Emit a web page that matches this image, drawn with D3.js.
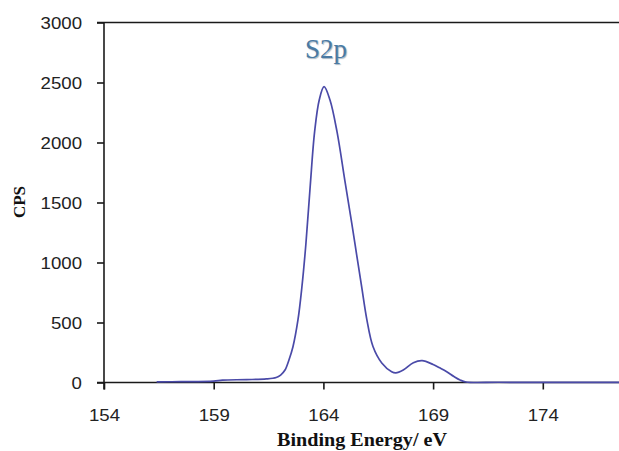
<!DOCTYPE html>
<html>
<head>
<meta charset="utf-8">
<script src="https://cdn.jsdelivr.net/npm/d3@7"></script>
<style>
  html, body { margin: 0; padding: 0; background: #fff; overflow: hidden; }
  svg { display: block; }
</style>
</head>
<body>
<svg id="chart" width="619" height="451"></svg>
<script>
// S2p XPS spectrum: binding energy (eV) vs counts per second
const energy = [156.4, 157.5, 159.0, 159.4, 160.5, 161.4, 161.85, 162.05, 162.25, 162.43,
  162.61, 162.84, 163.02, 163.2, 163.4, 163.6, 163.81, 164.03, 164.3,
  164.62, 164.98, 165.29, 165.52, 165.75, 165.97, 166.26, 166.66, 167.11, 167.3,
  167.64, 168.1, 168.5, 169.0, 169.3, 169.62, 169.95, 170.23, 170.5, 172, 175, 179];
const cps = [5, 7, 12, 20, 24, 30, 42, 62, 104, 188,
  296, 521, 796, 1150, 1640, 2090, 2354, 2465, 2354,
  2090, 1680, 1330, 1060, 790, 535, 300, 163, 90, 80,
  104, 165, 182, 150, 122, 90, 50, 21, 4, 2, 1, 1];
const xTicks = [154, 159, 164, 169, 174];
const yTicks = [0, 500, 1000, 1500, 2000, 2500, 3000];
const peakLabel = "S2p";

const svg = d3.select("#chart");
const W = 619;

const x = d3.scaleLinear().domain([154, 179]).range([104, 104 + 25 * 21.94]);
const y = d3.scaleLinear().domain([0, 3000]).range([382.5, 22.5]);

const axisColor = "#1a1a1a";

// frame line along the top of the plot area
svg.append("line")
  .attr("x1", 97).attr("x2", W)
  .attr("y1", y(3000)).attr("y2", y(3000))
  .attr("stroke", axisColor).attr("stroke-width", 1.6);

// y axis
const yAxis = svg.append("g")
  .attr("transform", `translate(${x(154)},0)`)
  .call(d3.axisLeft(y).tickValues(yTicks).tickSize(7).tickSizeOuter(0).tickPadding(0));
yAxis.select(".domain").attr("stroke", axisColor).attr("stroke-width", 1.6)
  .attr("d", `M0,${y(3000)}V${y(0) + 7}`);
yAxis.selectAll(".tick line").attr("stroke", axisColor).attr("stroke-width", 1.6);
yAxis.selectAll(".tick text").remove();
yAxis.selectAll(".tick").append("text")
  .attr("transform", "translate(-22,0) scale(1.13,1)")
  .attr("text-anchor", "end")
  .attr("dy", "0.36em")
  .attr("fill", "#222")
  .attr("font-family", "Liberation Sans, Arial, sans-serif")
  .attr("font-size", 16.5)
  .text(d => d);

// x axis
const xAxis = svg.append("g")
  .attr("transform", `translate(0,${y(0)})`)
  .call(d3.axisBottom(x).tickValues(xTicks).tickSize(7).tickSizeOuter(0).tickPadding(0));
xAxis.select(".domain").attr("stroke", axisColor).attr("stroke-width", 1.6)
  .attr("d", `M97,0H${W + 40}`);
xAxis.selectAll(".tick line").attr("stroke", axisColor).attr("stroke-width", 1.6);
xAxis.selectAll(".tick text").remove();
xAxis.selectAll(".tick").append("text")
  .attr("transform", "translate(0,38) scale(1.13,1)")
  .attr("text-anchor", "middle")
  .attr("fill", "#222")
  .attr("font-family", "Liberation Sans, Arial, sans-serif")
  .attr("font-size", 16.5)
  .text(d => d);

// spectrum line
const line = d3.line()
  .x((d, i) => x(energy[i]))
  .y((d, i) => y(cps[i]))
  .curve(d3.curveCatmullRom.alpha(0.5));

svg.append("path")
  .datum(cps)
  .attr("d", line)
  .attr("fill", "none")
  .attr("stroke", "#4a4aa8")
  .attr("stroke-width", 1.7);

// peak annotation
svg.append("text")
  .attr("x", 326).attr("y", 58)
  .attr("text-anchor", "middle")
  .attr("fill", "#4a7aa3")
  .attr("font-family", "Liberation Serif, Times New Roman, serif")
  .attr("font-size", 27)
  .style("text-shadow", "1px 1px 1px rgba(60,90,120,0.45)")
  .text(peakLabel);

// axis titles
svg.append("text")
  .attr("transform", "translate(362,446) scale(1.06,1)")
  .attr("text-anchor", "middle")
  .attr("fill", "#111")
  .attr("font-family", "Liberation Serif, Times New Roman, serif")
  .attr("font-weight", "bold")
  .attr("font-size", 19)
  .text("Binding Energy/ eV");

svg.append("text")
  .attr("transform", "translate(25,202) rotate(-90)")
  .attr("text-anchor", "middle")
  .attr("fill", "#111")
  .attr("font-family", "Liberation Serif, Times New Roman, serif")
  .attr("font-weight", "bold")
  .attr("font-size", 17)
  .text("CPS");
</script>
</body>
</html>
